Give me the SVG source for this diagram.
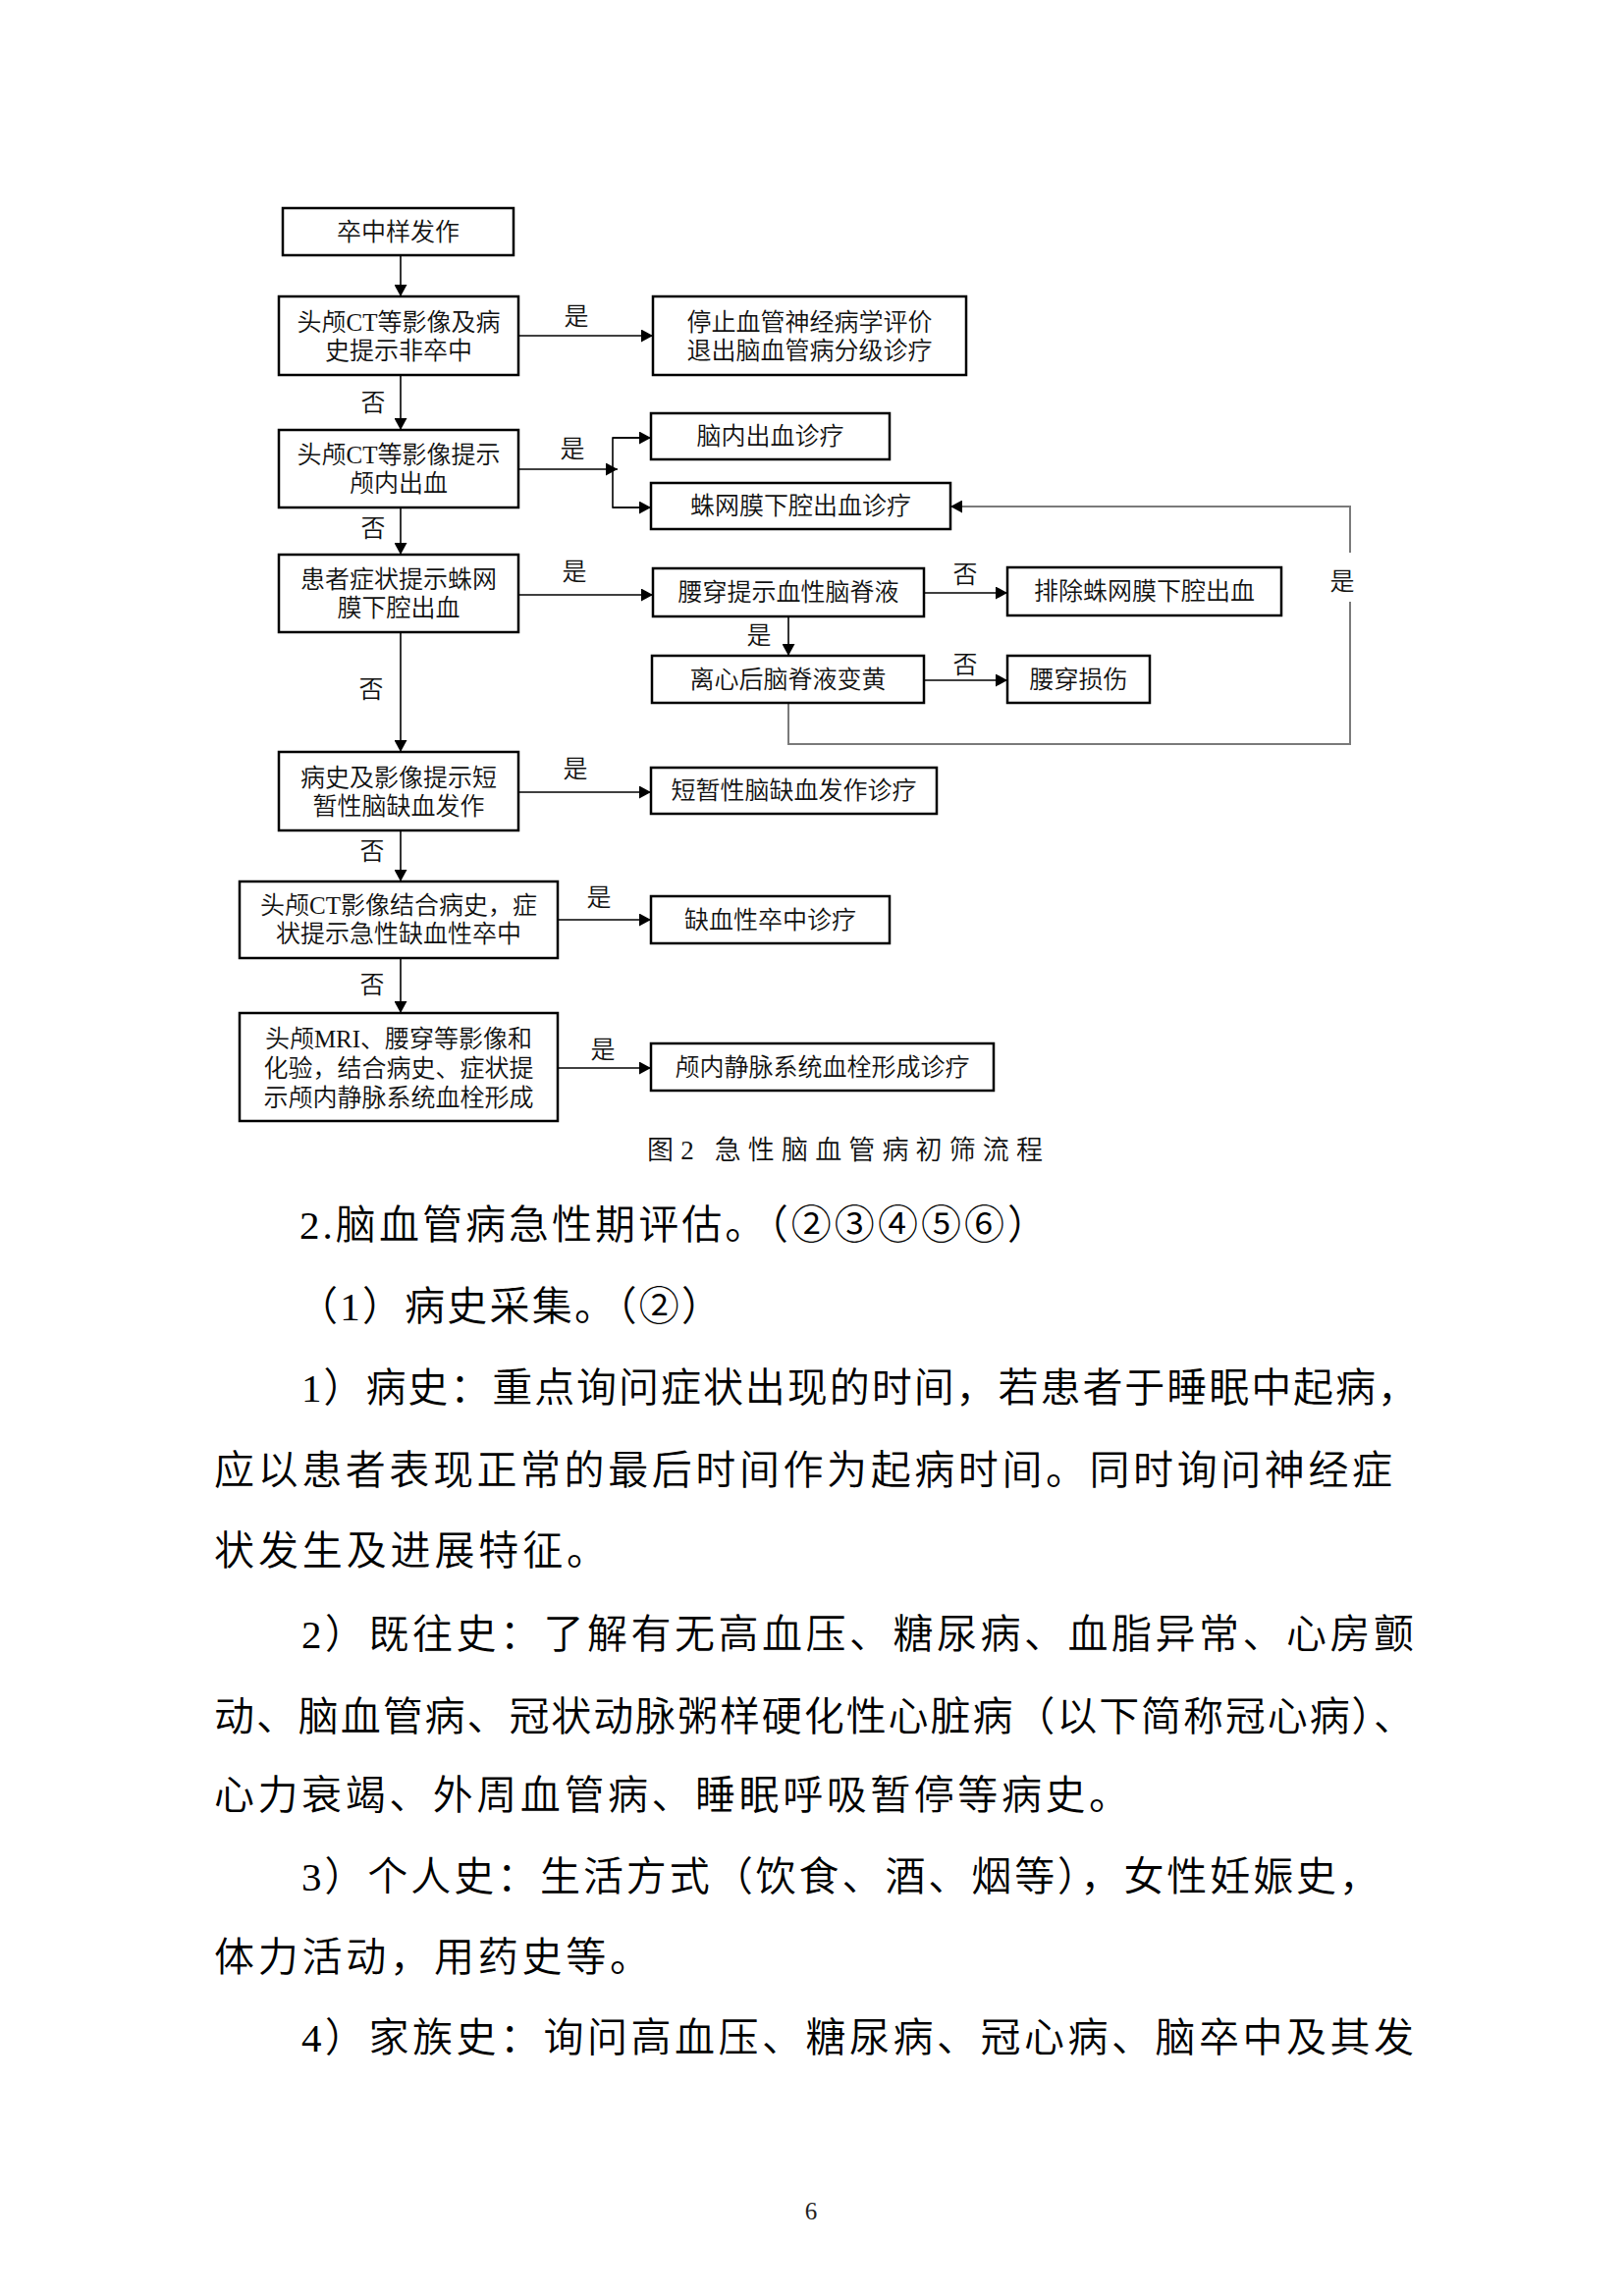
<svg xmlns="http://www.w3.org/2000/svg" width="1654" height="2339" viewBox="0 0 1654 2339">
<style>
.box{fill:#fff;stroke:#000;stroke-width:2.5}
.t{font-family:"Liberation Serif","Noto Sans CJK SC",serif;font-size:25px;text-anchor:middle;dominant-baseline:central;fill:#111;font-weight:350}
.lbl{font-family:"Liberation Serif","Noto Sans CJK SC",serif;font-size:25px;text-anchor:middle;dominant-baseline:central;fill:#111;font-weight:350}
.c{stroke:#000;stroke-width:1.6;fill:none}
.loop{stroke:#7a7a7a;stroke-width:2;fill:none}
.body{font-family:"Liberation Serif","Noto Sans CJK SC",serif;font-size:41px;dominant-baseline:central;fill:#000;font-weight:350}
.cap{font-family:"Liberation Serif","Noto Sans CJK SC",serif;font-size:27px;dominant-baseline:central;fill:#111;font-weight:350}
</style>
<defs>
<marker id="arr" markerUnits="userSpaceOnUse" markerWidth="13" markerHeight="13" refX="12" refY="6.5" orient="auto">
<path d="M0,0 L12,6.5 L0,13 z" fill="#000"/>
</marker>
</defs>
<rect width="1654" height="2339" fill="#fff"/>

<g id="connectors">
<line class="c" x1="408" y1="260" x2="408" y2="302" marker-end="url(#arr)"/>
<line class="c" x1="408" y1="382" x2="408" y2="438" marker-end="url(#arr)"/>
<line class="c" x1="408" y1="517" x2="408" y2="565" marker-end="url(#arr)"/>
<line class="c" x1="408" y1="644" x2="408" y2="766" marker-end="url(#arr)"/>
<line class="c" x1="408" y1="846" x2="408" y2="898" marker-end="url(#arr)"/>
<line class="c" x1="408" y1="976" x2="408" y2="1032" marker-end="url(#arr)"/>
<line class="c" x1="528" y1="342" x2="665" y2="342" marker-end="url(#arr)"/>
<line class="c" x1="528" y1="478" x2="629" y2="478" marker-end="url(#arr)"/>
<path class="c" d="M663,446 H624 V517 H663" />
<line class="c" x1="624" y1="446" x2="663" y2="446" marker-end="url(#arr)"/>
<line class="c" x1="624" y1="517" x2="663" y2="517" marker-end="url(#arr)"/>
<line class="c" x1="528" y1="606" x2="665" y2="606" marker-end="url(#arr)"/>
<line class="c" x1="941" y1="604" x2="1026" y2="604" marker-end="url(#arr)"/>
<line class="c" x1="803" y1="628" x2="803" y2="668" marker-end="url(#arr)"/>
<line class="c" x1="941" y1="693" x2="1026" y2="693" marker-end="url(#arr)"/>
<path class="loop" d="M803,716 V758 H1375 V613"/>
<path class="loop" d="M1375,563 V516 H968" marker-end="url(#arr)"/>
<line class="c" x1="528" y1="807" x2="663" y2="807" marker-end="url(#arr)"/>
<line class="c" x1="568" y1="937" x2="663" y2="937" marker-end="url(#arr)"/>
<line class="c" x1="568" y1="1088" x2="663" y2="1088" marker-end="url(#arr)"/>
<text class="lbl" x="587" y="322">是</text>
<text class="lbl" x="380" y="410">否</text>
<text class="lbl" x="583" y="457">是</text>
<text class="lbl" x="380" y="538">否</text>
<text class="lbl" x="585" y="582">是</text>
<text class="lbl" x="983" y="585">否</text>
<text class="lbl" x="773" y="647">是</text>
<text class="lbl" x="983" y="677">否</text>
<text class="lbl" x="1367" y="592">是</text>
<text class="lbl" x="378" y="702">否</text>
<text class="lbl" x="586" y="783">是</text>
<text class="lbl" x="379" y="867">否</text>
<text class="lbl" x="610" y="914">是</text>
<text class="lbl" x="379" y="1003">否</text>
<text class="lbl" x="614" y="1069">是</text>
</g>

<g id="n1"><rect class="box" x="288" y="212" width="235" height="48"/><text class="t" x="405.5" y="236">卒中样发作</text></g>
<g id="n2"><rect class="box" x="284" y="302" width="244" height="80"/><text class="t" x="406" y="328">头颅CT等影像及病</text><text class="t" x="406" y="357">史提示非卒中</text></g>
<g id="n3"><rect class="box" x="665" y="302" width="319" height="80"/><text class="t" x="824.5" y="328">停止血管神经病学评价</text><text class="t" x="824.5" y="357">退出脑血管病分级诊疗</text></g>
<g id="n4"><rect class="box" x="284" y="438" width="244" height="79"/><text class="t" x="406" y="463">头颅CT等影像提示</text><text class="t" x="406" y="492">颅内出血</text></g>
<g id="n5"><rect class="box" x="663" y="421" width="243" height="47"/><text class="t" x="784.5" y="444.5">脑内出血诊疗</text></g>
<g id="n6"><rect class="box" x="663" y="492" width="305" height="47"/><text class="t" x="815.5" y="515.5">蛛网膜下腔出血诊疗</text></g>
<g id="n7"><rect class="box" x="284" y="565" width="244" height="79"/><text class="t" x="406" y="590">患者症状提示蛛网</text><text class="t" x="406" y="619">膜下腔出血</text></g>
<g id="n8"><rect class="box" x="665" y="579" width="276" height="49"/><text class="t" x="803" y="603.5">腰穿提示血性脑脊液</text></g>
<g id="n9"><rect class="box" x="1026" y="578" width="279" height="49"/><text class="t" x="1165.5" y="602.5">排除蛛网膜下腔出血</text></g>
<g id="n10"><rect class="box" x="664" y="668" width="277" height="48"/><text class="t" x="802.5" y="692">离心后脑脊液变黄</text></g>
<g id="n11"><rect class="box" x="1026" y="668" width="145" height="48"/><text class="t" x="1098.5" y="692">腰穿损伤</text></g>
<g id="n12"><rect class="box" x="284" y="766" width="244" height="80"/><text class="t" x="406" y="792">病史及影像提示短</text><text class="t" x="406" y="821">暂性脑缺血发作</text></g>
<g id="n13"><rect class="box" x="663" y="782" width="291" height="47"/><text class="t" x="808.5" y="805.5">短暂性脑缺血发作诊疗</text></g>
<g id="n14"><rect class="box" x="244" y="898" width="324" height="78"/><text class="t" x="406" y="922.5">头颅CT影像结合病史，症</text><text class="t" x="406" y="951.5">状提示急性缺血性卒中</text></g>
<g id="n15"><rect class="box" x="663" y="913" width="243" height="48"/><text class="t" x="784.5" y="937">缺血性卒中诊疗</text></g>
<g id="n16"><rect class="box" x="244" y="1032" width="324" height="110"/><text class="t" x="406" y="1058">头颅MRI、腰穿等影像和</text><text class="t" x="406" y="1088">化验，结合病史、症状提</text><text class="t" x="406" y="1118">示颅内静脉系统血栓形成</text></g>
<g id="n17"><rect class="box" x="663" y="1063" width="349" height="48"/><text class="t" x="837.5" y="1087">颅内静脉系统血栓形成诊疗</text></g>

<text class="cap" x="659" y="1172" textLength="403" lengthAdjust="spacing">图2 急性脑血管病初筛流程</text>

<text class="body" x="305" y="1248" textLength="762" lengthAdjust="spacing">2.脑血管病急性期评估。（②③④⑤⑥）</text>
<text class="body" x="303" y="1331" textLength="432" lengthAdjust="spacing">（1）病史采集。（②）</text>
<text class="body" x="307" y="1414" textLength="1137" lengthAdjust="spacing">1）病史：重点询问症状出现的时间，若患者于睡眠中起病，</text>
<text class="body" x="218" y="1498" textLength="1200" lengthAdjust="spacing">应以患者表现正常的最后时间作为起病时间。同时询问神经症</text>
<text class="body" x="218" y="1580" textLength="400" lengthAdjust="spacing">状发生及进展特征。</text>
<text class="body" x="307" y="1665" textLength="1133" lengthAdjust="spacing">2）既往史：了解有无高血压、糖尿病、血脂异常、心房颤</text>
<text class="body" x="218" y="1749" textLength="1222" lengthAdjust="spacing">动、脑血管病、冠状动脉粥样硬化性心脏病（以下简称冠心病）、</text>
<text class="body" x="218" y="1829" textLength="932" lengthAdjust="spacing">心力衰竭、外周血管病、睡眠呼吸暂停等病史。</text>
<text class="body" x="307" y="1912" textLength="1098" lengthAdjust="spacing">3）个人史：生活方式（饮食、酒、烟等），女性妊娠史，</text>
<text class="body" x="218" y="1994" textLength="444" lengthAdjust="spacing">体力活动，用药史等。</text>
<text class="body" x="307" y="2076" textLength="1133" lengthAdjust="spacing">4）家族史：询问高血压、糖尿病、冠心病、脑卒中及其发</text>

<text x="826" y="2261" font-family="Liberation Serif, serif" font-size="25" text-anchor="middle" fill="#222">6</text>
</svg>
